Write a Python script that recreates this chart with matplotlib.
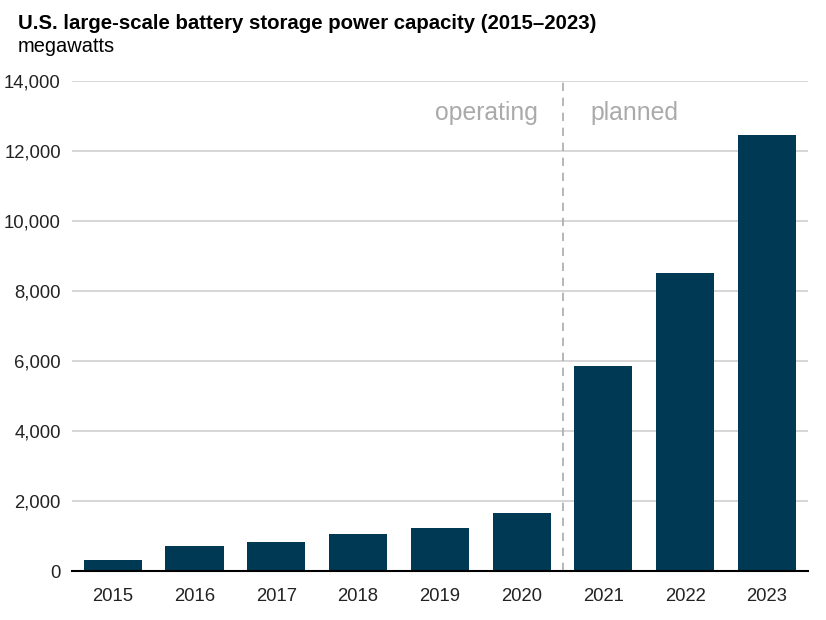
import matplotlib.pyplot as plt
from matplotlib.ticker import FuncFormatter

plt.rcParams['font.family'] = ['Liberation Sans', 'DejaVu Sans']

years = ['2015', '2016', '2017', '2018', '2019', '2020', '2021', '2022', '2023']
capacity = [314, 714, 829, 1057, 1229, 1657, 5857, 8514, 12457]
split_label_left = 'operating'
split_label_right = 'planned'

fig = plt.figure(figsize=(8.26, 6.2), dpi=100)
ax = fig.add_axes([0.087, 0.079, 0.891, 0.79])

x = range(len(years))
ax.bar(x, capacity, width=0.71, color='#003953', zorder=3)

ax.set_xlim(-0.5, 8.5)
ax.set_ylim(0, 14000)
ax.set_yticks(range(0, 14001, 2000))
ax.yaxis.set_major_formatter(FuncFormatter(lambda v, p: f'{int(v):,}'))
ax.set_xticks(list(x))
ax.set_xticklabels(years)
ax.grid(axis='y', color='#d0d0d0', linewidth=1.2, zorder=0)
for s in ['top', 'right', 'left']:
    ax.spines[s].set_visible(False)
ax.spines['bottom'].set_color('black')
ax.spines['bottom'].set_linewidth(1.5)
ax.spines['bottom'].set_zorder(4)
ax.tick_params(axis='both', length=0, labelsize=13.3, colors='#222222')
ax.tick_params(axis='x', pad=12)
ax.tick_params(axis='y', pad=8)

ax.axvline(5.5, color='#aaaaaa', linestyle=(0, (5, 4)), linewidth=1.2, zorder=2)
ax.text(5.2, 13100, split_label_left, ha='right', va='center', fontsize=17.8, color='#aaaaaa')
ax.text(5.84, 13100, split_label_right, ha='left', va='center', fontsize=17.8, color='#aaaaaa')

fig.text(0.022, 0.962, 'U.S. large-scale battery storage power capacity (2015\u20132023)',
         fontsize=14.7, fontweight='bold', va='center')
fig.text(0.022, 0.925, 'megawatts', fontsize=14.4, va='center')

fig.savefig('out.png', dpi=100)
